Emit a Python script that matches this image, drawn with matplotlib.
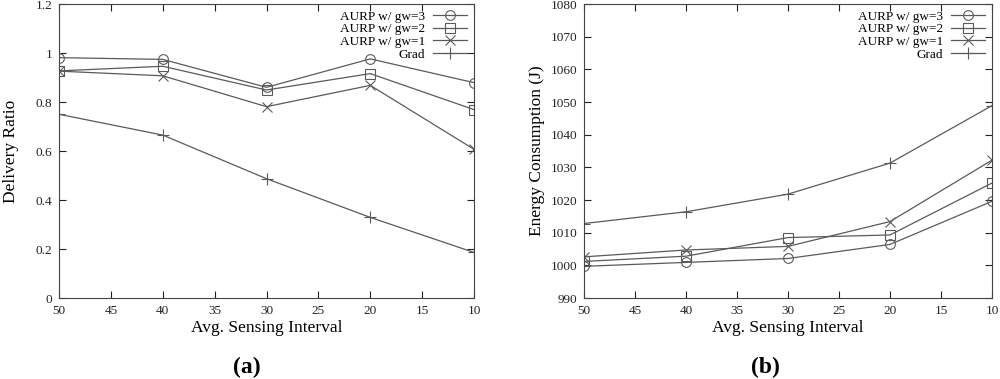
import matplotlib
matplotlib.use("Agg")
import matplotlib.pyplot as plt
import matplotlib.ticker as mticker

plt.rcParams['font.family'] = ['Liberation Serif', 'DejaVu Serif']

intervals = [50, 40, 30, 20, 10]

# delivery ratio, panel (a)
dr_gw3 = [0.981, 0.974, 0.860, 0.976, 0.879]
dr_gw2 = [0.927, 0.946, 0.849, 0.916, 0.769]
dr_gw1 = [0.926, 0.907, 0.781, 0.868, 0.607]
dr_grad = [0.750, 0.665, 0.487, 0.329, 0.186]

# energy consumption, panel (b)
en_gw3 = [999.7, 1000.9, 1002.1, 1006.4, 1019.6]
en_gw2 = [1001.2, 1002.8, 1008.5, 1009.3, 1025.2]
en_gw1 = [1002.6, 1004.7, 1005.8, 1013.4, 1032.2]
en_grad = [1012.8, 1016.4, 1021.8, 1031.3, 1048.9]

labels = ["AURP w/ gw=3", "AURP w/ gw=2", "AURP w/ gw=1", "Grad"]
markers = ["o", "s", "x", "+"]
msizes = [7, 6.5, 7, 8]
line_col = "#5a5a5a"

fig = plt.figure(figsize=(10, 3.79), dpi=100)
ax1 = fig.add_axes([0.059, 0.2137, 0.415, 0.7757])
ax2 = fig.add_axes([0.584, 0.2137, 0.408, 0.7757])


def draw(ax, series, ylim, yticks, ylabel, pad):
    for vals, lab, mk, ms in zip(series, labels, markers, msizes):
        ax.plot(intervals, vals, color=line_col, lw=0.9, marker=mk,
                markersize=ms, markerfacecolor="none",
                markeredgecolor=line_col, markeredgewidth=0.8, label=lab)
    ax.set_xlim(50, 10)
    ax.set_ylim(*ylim)
    ax.set_xticks(range(50, 9, -5))
    ax.set_yticks(yticks)
    ax.tick_params(direction="in", top=True, right=True, length=5,
                   width=0.8, labelsize=9.5, colors="#222222", pad=5)
    for sp in ax.spines.values():
        sp.set_color("#444444")
        sp.set_linewidth(0.8)
    ax.set_xlabel("Avg. Sensing Interval", fontsize=12.5, labelpad=2)
    ax.set_ylabel(ylabel, fontsize=12.5, labelpad=pad)
    ax.legend(loc="upper right", frameon=False, markerfirst=False,
              fontsize=9.5, handlelength=2.6, labelspacing=0.03,
              borderaxespad=0.1, handletextpad=0.6)


draw(ax1, [dr_gw3, dr_gw2, dr_gw1, dr_grad], (0, 1.2),
     [0, 0.2, 0.4, 0.6, 0.8, 1.0, 1.2], "Delivery Ratio", 12)
ax1.yaxis.set_major_formatter(mticker.FuncFormatter(lambda v, p: f"{v:g}"))
draw(ax2, [en_gw3, en_gw2, en_gw1, en_grad], (990, 1080),
     list(range(990, 1081, 10)), "Energy Consumption (J)", 4)

fig.text(0.247, 0.03, "(a)", ha="center", va="center", fontsize=17,
         fontweight="bold")
fig.text(0.765, 0.03, "(b)", ha="center", va="center", fontsize=17,
         fontweight="bold")

fig.savefig("out.png", dpi=100)
